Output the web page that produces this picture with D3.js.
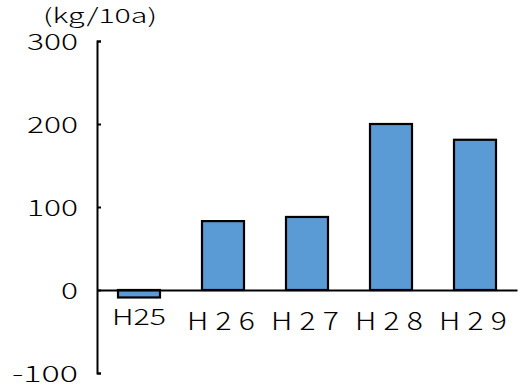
<!DOCTYPE html>
<html>
<head>
<meta charset="utf-8">
<script src="https://cdn.jsdelivr.net/npm/d3@7"></script>
<style>
  html, body { margin: 0; padding: 0; background: #fff; }
  svg { display: block; }
  text { font-family: "Noto Sans CJK JP", "Noto Sans", sans-serif; font-weight: 300; fill: #000; }
</style>
</head>
<body>
<div id="chart"></div>
<script>
// Yield per 10a by year
const categories = ["H25", "H26", "H27", "H28", "H29"];
const values = [-9, 83, 88, 200, 181];
const yTicks = [-100, 0, 100, 200, 300];
const unitLabel = "(kg/10a)";

const W = 525, H = 387;
const svg = d3.select("#chart").append("svg")
  .attr("width", W).attr("height", H);

const x = d3.scaleBand()
  .domain(categories)
  .range([97, 517])
  .paddingInner(0.5)
  .paddingOuter(0.25);

const y = d3.scaleLinear()
  .domain([-100, 300])
  .range([373, 41]);

// bars
svg.append("g").selectAll("rect")
  .data(values)
  .join("rect")
  .attr("x", (d, i) => x(categories[i]))
  .attr("width", x.bandwidth())
  .attr("y", d => y(Math.max(0, d)))
  .attr("height", d => Math.abs(y(d) - y(0)))
  .attr("fill", "#5B9BD5")
  .attr("stroke", "#000")
  .attr("stroke-width", 2.2);

// y axis: ticks point inward, bracket ends
const yAxis = svg.append("g")
  .attr("transform", "translate(97,0)")
  .call(d3.axisLeft(y).tickValues(yTicks).tickFormat(d => String(d))
    .tickSizeInner(-4).tickSizeOuter(-4).tickPadding(20));
yAxis.select(".domain").attr("stroke", "#000").attr("stroke-width", 2);
yAxis.selectAll(".tick line").attr("stroke", "#000").attr("stroke-width", 2);
yAxis.selectAll(".tick text")
  .attr("font-size", 22)
  .attr("dy", "0.38em")
  .attr("x", -19)
  .attr("textLength", d => String(d).length * 17 + (d < 0 ? -2 : 0))
  .attr("lengthAdjust", "spacingAndGlyphs");

// x axis along zero; later years are set wide and spaced out
const xAxis = svg.append("g")
  .attr("transform", `translate(0,${y(0)})`)
  .call(d3.axisBottom(x).tickSize(0).tickSizeOuter(0).tickPadding(0));
xAxis.select(".domain").attr("stroke", "#000").attr("stroke-width", 2);
xAxis.selectAll(".tick text")
  .attr("dy", null)
  .attr("font-size", (d, i) => i === 0 ? 22 : 25)
  .attr("y", (d, i) => i === 0 ? 35 : 40)
  .attr("x", (d, i) => i === 0 ? 0 : 1.3)
  .attr("transform", (d, i) => i === 0 ? null : "scale(1.2,1)")
  .attr("textLength", (d, i) => i === 0 ? 54 : null)
  .attr("lengthAdjust", (d, i) => i === 0 ? "spacingAndGlyphs" : null)
  .style("letter-spacing", (d, i) => i === 0 ? null : "6px");

// unit label
svg.append("text")
  .attr("x", 100)
  .attr("y", 23)
  .attr("text-anchor", "middle")
  .attr("font-size", 20)
  .attr("textLength", 114)
  .attr("lengthAdjust", "spacingAndGlyphs")
  .text(unitLabel);
</script>
</body>
</html>
